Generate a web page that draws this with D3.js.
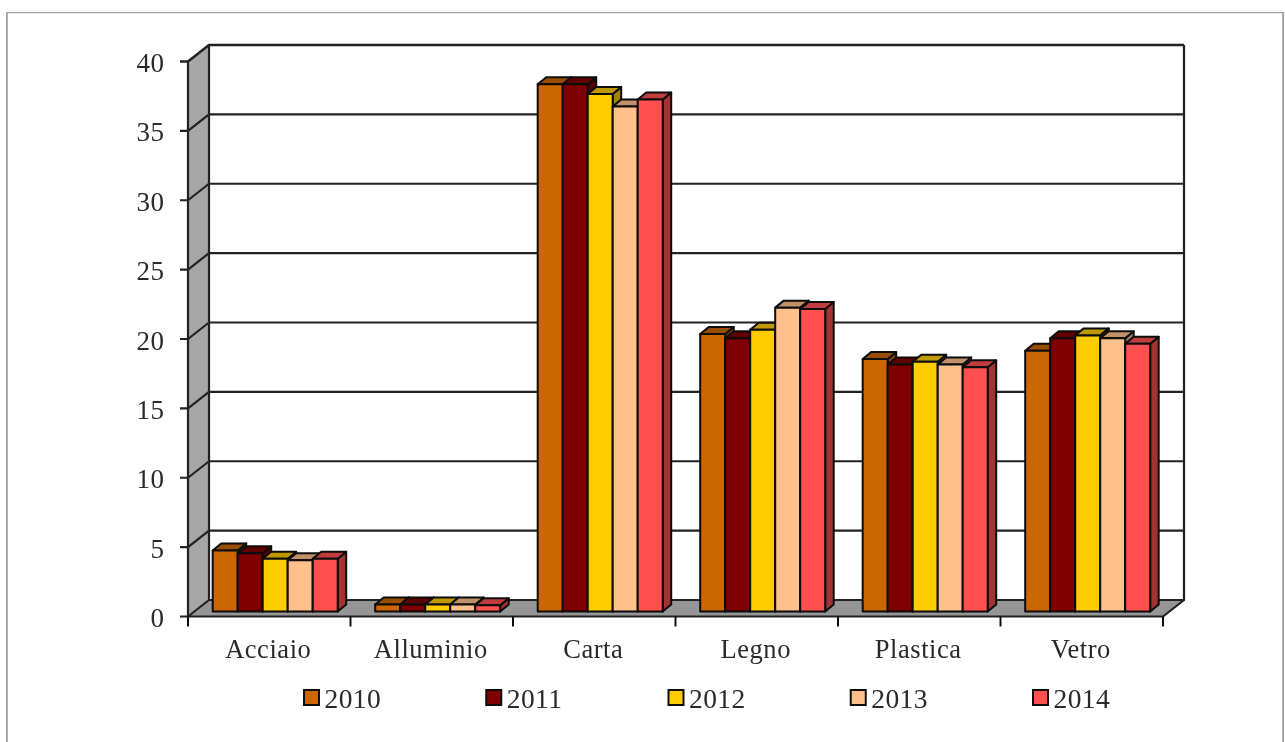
<!DOCTYPE html>
<html><head><meta charset="utf-8">
<script src="https://cdn.jsdelivr.net/npm/d3@7"></script>
<style>html,body{margin:0;padding:0;background:#fff;overflow:hidden}svg{display:block}text{font-family:"Liberation Serif",serif;fill:#2a2a2a}</style>
</head><body><svg id="c" width="1285" height="742"></svg>
<script>
const categories=["Acciaio","Alluminio","Carta","Legno","Plastica","Vetro"];
const years=["2010","2011","2012","2013","2014"];
const colors=["#cc6600","#800000","#ffcc00","#ffc08c","#ff5050"];
const s2010=[4.4,0.5,38.0,20.0,18.2,18.8];
const s2011=[4.2,0.5,38.0,19.7,17.8,19.7];
const s2012=[3.8,0.5,37.3,20.3,18.0,19.9];
const s2013=[3.7,0.5,36.4,21.9,17.8,19.7];
const s2014=[3.8,0.45,36.9,21.8,17.6,19.3];
const series=[s2010,s2011,s2012,s2013,s2014];
const yTicks=[0,5,10,15,20,25,30,35,40];

const svg=d3.select("#c");
const defs=svg.append("defs");
defs.append("filter").attr("id","soft").attr("x",0).attr("y",0).attr("width","100%").attr("height","100%")
  .append("feGaussianBlur").attr("stdDeviation",0.6);
const root=svg.append("g").attr("filter","url(#soft)");

const x=d3.scaleBand().domain(categories).range([188,1163]);
const y=d3.scaleLinear().domain([0,40]).range([616.5,61.5]);
const inner=d3.scaleBand().domain(years).range([24.7,149.7]);
const wallDx=21, wallDy=16.5, barLift=5, depthX=8.5, depthY=7;
const ink="#111", grid="#222";

// outer frame
root.append("path").attr("d","M6.5 742V12H1283.5V742").attr("fill","none").attr("stroke","#a0a0a0").attr("stroke-width",2.6);

const pts=a=>a.map(p=>p.join(",")).join(" ");
const x0=x.range()[0], x1=x.range()[1];
// left wall and floor
root.append("polygon").attr("points",pts([[x0,y(40)],[x0+wallDx,y(40)-wallDy],[x0+wallDx,y(0)-wallDy],[x0,y(0)]])).attr("fill","#a6a6a6");
root.append("polygon").attr("points",pts([[x0,y(0)],[x0+wallDx,y(0)-wallDy],[x1+wallDx,y(0)-wallDy],[x1,y(0)]])).attr("fill","#969696");

// gridlines
root.selectAll(".g").data(yTicks).join("path").attr("class","g")
  .attr("fill","none").attr("stroke",grid).attr("stroke-width",d=>d===40?2.6:2.2)
  .attr("d",d=>`M${x0-8} ${y(d)}H${x0}L${x0+wallDx} ${y(d)-wallDy}H${x1+wallDx}`);
// frame edges
root.append("path").attr("fill","none").attr("stroke",grid).attr("stroke-width",2.2)
  .attr("d",`M${x0} ${y(40)}V${y(0)}H${x1}L${x1+wallDx} ${y(0)-wallDy}V${y(40)-wallDy}M${x0+wallDx} ${y(40)-wallDy}V${y(0)-wallDy}`);
root.selectAll(".xt").data(categories.concat("_end")).join("line").attr("class","xt")
  .attr("x1",d=>d==="_end"?x1:x(d)).attr("x2",d=>d==="_end"?x1:x(d))
  .attr("y1",y(0)).attr("y2",y(0)+10).attr("stroke",ink).attr("stroke-width",2);

// bars
const base=y(0)-barLift, k=y(0)-y(1);
const shade=(c,f)=>d3.rgb(c).darker(f).formatHex();
categories.forEach((cat,ci)=>{
  const g=root.append("g");
  years.forEach((yr,si)=>{
    const v=series[si][ci], l=x(cat)+inner(yr), w=inner.bandwidth(), t=base-v*k;
    const bg=g.append("g").attr("stroke","#0a0a0a").attr("stroke-width",2).attr("stroke-linejoin","round");
    bg.append("polygon").attr("points",pts([[l+w,t],[l+w+depthX,t-depthY],[l+w+depthX,base-depthY],[l+w,base]])).attr("fill",shade(colors[si],1.25));
    bg.append("polygon").attr("points",pts([[l,t],[l+depthX,t-depthY],[l+w+depthX,t-depthY],[l+w,t]])).attr("fill",shade(colors[si],0.8));
    bg.append("rect").attr("x",l).attr("y",t).attr("width",w).attr("height",base-t).attr("fill",colors[si]);
  });
});

// labels
root.selectAll(".yl").data(yTicks).join("text").attr("class","yl")
  .attr("x",164.5).attr("y",d=>y(d)+10.5).attr("text-anchor","end").attr("font-size",27).attr("letter-spacing",0.5).text(d=>d);
root.selectAll(".xl").data(categories).join("text").attr("class","xl")
  .attr("x",d=>x(d)+x.bandwidth()/2-1).attr("y",658).attr("text-anchor","middle").attr("font-size",26.5).attr("letter-spacing",0.55).text(d=>d);

// legend
const lx=d3.scalePoint().domain(years).range([304,1033]);
const lg=root.selectAll(".lg").data(years).join("g").attr("class","lg").attr("transform",d=>`translate(${lx(d)},690)`);
lg.append("rect").attr("width",15).attr("height",15).attr("fill",(d,i)=>colors[i]).attr("stroke","#111").attr("stroke-width",2);
lg.append("text").attr("x",20.5).attr("y",17.5).attr("font-size",27.5).attr("letter-spacing",0.4).text(d=>d);
</script></body></html>
